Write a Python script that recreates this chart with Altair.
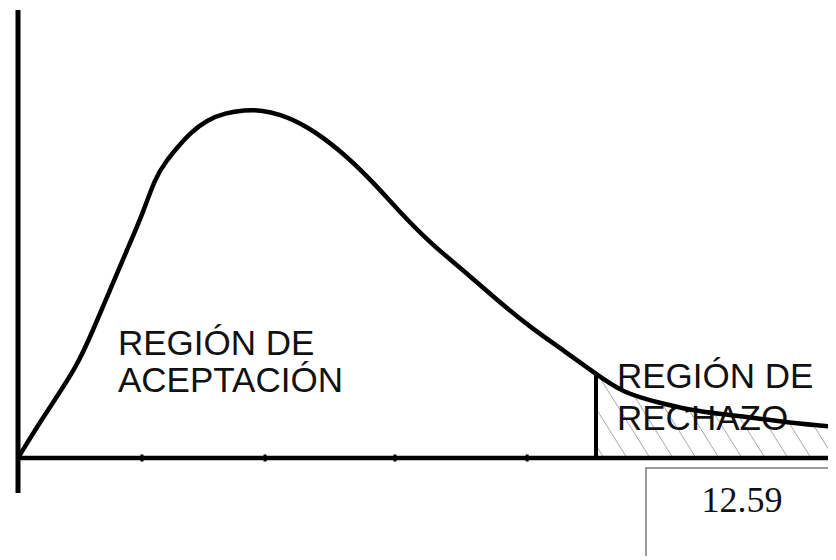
import altair as alt
import numpy as np
import pandas as pd

# ---- data ----
curve_x = [0.0, 0.545, 1.285, 1.634, 2.004, 2.374, 2.723, 2.984, 3.245, 3.463,
           3.746, 4.117, 4.509, 4.944, 5.271, 5.707, 6.295, 7.014, 7.733, 8.255,
           8.974, 9.693, 10.433, 11.152, 11.871, 12.59, 13.178, 13.984, 14.637,
           15.291, 16.097, 16.816, 17.817]
curve_y = [0.0, 0.0164, 0.0364, 0.0512, 0.0672, 0.0832, 0.098, 0.112, 0.1192, 0.124,
           0.130, 0.1352, 0.138, 0.1392, 0.1392, 0.1376, 0.1328, 0.1232, 0.1104, 0.0996,
           0.086, 0.0752, 0.0632, 0.0524, 0.0432, 0.0336, 0.026, 0.022, 0.0192,
           0.0176, 0.016, 0.014, 0.0124]
crit = 12.59
tick_x = [2.70, 5.38, 8.21, 11.09]
accept_lines = ["REGIÓN DE", "ACEPTACIÓN"]
reject_lines = ["REGIÓN DE", "RECHAZO"]
crit_label = "12.59"

# ---- layout constants ----
W, H = 820, 548
X0 = 10          # view x of the origin
Y0 = 450         # view y of the baseline
PXU = 45.91      # pixels per x unit
PYU = 2500.0     # pixels per y unit
xmin, xmax = -X0 / PXU, (W - X0) / PXU
ymin, ymax = -(H - Y0) / PYU, Y0 / PYU

xs = alt.Scale(domain=[xmin, xmax], nice=False, zero=False)
ys = alt.Scale(domain=[ymin, ymax], nice=False, zero=False)

curve_df = pd.DataFrame({"x": curve_x, "y": curve_y})

# ---- hatching of the rejection region, derived from the curve ----
cpx = X0 + np.array(curve_x) * PXU
ch = np.array(curve_y) * PYU
c_px = X0 + crit * PXU
slope = 1.6
segs = []
for b in np.arange(c_px + 8, W + 40, 23):
    t = 0.0
    xcur = b
    while True:
        xcur = b - t / slope
        if xcur <= c_px + 2:
            break
        h = np.interp(xcur, cpx, ch)
        if t >= h - 2:
            break
        t += 0.25
    if t > 2:
        segs.append({"x": (b - X0) / PXU, "y": 0.0, "x2": (xcur - X0) / PXU, "y2": t / PYU})
hatch_df = pd.DataFrame(segs)

hatch = alt.Chart(hatch_df).mark_rule(color="#a8a8a8", strokeWidth=1).encode(
    x=alt.X("x:Q", scale=xs, axis=None),
    y=alt.Y("y:Q", scale=ys, axis=None),
    x2="x2:Q", y2="y2:Q")

curve = alt.Chart(curve_df).mark_line(color="black", strokeWidth=4.5,
                                      interpolate="basis").encode(
    x=alt.X("x:Q", scale=xs, axis=None),
    y=alt.Y("y:Q", scale=ys, axis=None))

crit_y = float(np.interp(crit, curve_x, curve_y))
crit_df = pd.DataFrame({"x": [crit], "y": [0.0], "y2": [crit_y]})
crit_line = alt.Chart(crit_df).mark_rule(color="black", strokeWidth=4).encode(
    x=alt.X("x:Q", scale=xs, axis=None),
    y=alt.Y("y:Q", scale=ys, axis=None), y2="y2:Q")

xaxis = alt.Chart(pd.DataFrame({"x": [0.0], "x2": [xmax + 1], "y": [0.0]})).mark_rule(
    color="black", strokeWidth=4.5).encode(
    x=alt.X("x:Q", scale=xs, axis=None), x2="x2:Q",
    y=alt.Y("y:Q", scale=ys, axis=None))

yaxis = alt.Chart(pd.DataFrame({"x": [0.0], "y": [-35 / PYU], "y2": [448 / PYU]})).mark_rule(
    color="black", strokeWidth=5).encode(
    x=alt.X("x:Q", scale=xs, axis=None),
    y=alt.Y("y:Q", scale=ys, axis=None), y2="y2:Q")

ticks = alt.Chart(pd.DataFrame({"x": tick_x})).mark_rule(color="black", strokeWidth=3).encode(
    x=alt.X("x:Q", scale=xs, axis=None),
    y=alt.value(Y0 - 3.5), y2=alt.value(Y0 + 3.5))

accept_df = pd.DataFrame({"t": accept_lines, "x": [100 / PXU] * 2,
                          "y": [103 / PYU, 66 / PYU]})
reject_df = pd.DataFrame({"t": reject_lines, "x": [599 / PXU] * 2,
                          "y": [70 / PYU, 28 / PYU]})
txt_kw = dict(align="left", baseline="alphabetic", font="Liberation Sans",
              fontSize=35, color="#111111")
accept = alt.Chart(accept_df).mark_text(**txt_kw).encode(
    x=alt.X("x:Q", scale=xs, axis=None), y=alt.Y("y:Q", scale=ys, axis=None), text="t:N")
reject = alt.Chart(reject_df).mark_text(**txt_kw).encode(
    x=alt.X("x:Q", scale=xs, axis=None), y=alt.Y("y:Q", scale=ys, axis=None), text="t:N")

box = alt.Chart(pd.DataFrame({"x": [628 / PXU], "x2": [xmax + 2],
                              "y": [-10 / PYU], "y2": [ymin - 0.02]})).mark_rect(
    fill="white", stroke="#7a7a7a", strokeWidth=1.5).encode(
    x=alt.X("x:Q", scale=xs, axis=None), x2="x2:Q",
    y=alt.Y("y:Q", scale=ys, axis=None), y2="y2:Q")

box_text = alt.Chart(pd.DataFrame({"t": [crit_label], "x": [724 / PXU], "y": [-54 / PYU]})).mark_text(
    align="center", baseline="alphabetic", font="Liberation Serif", fontSize=36,
    color="#111111").encode(
    x=alt.X("x:Q", scale=xs, axis=None), y=alt.Y("y:Q", scale=ys, axis=None), text="t:N")

chart = alt.layer(hatch, reject, curve, crit_line, xaxis, yaxis, ticks, accept,
                  box, box_text).properties(
    width=W, height=H, padding=0, autosize=alt.AutoSizeParams(type="none"),
    background="white").configure_view(strokeWidth=0)

chart.save("out.html", embed_options={"renderer": "svg", "actions": False})
